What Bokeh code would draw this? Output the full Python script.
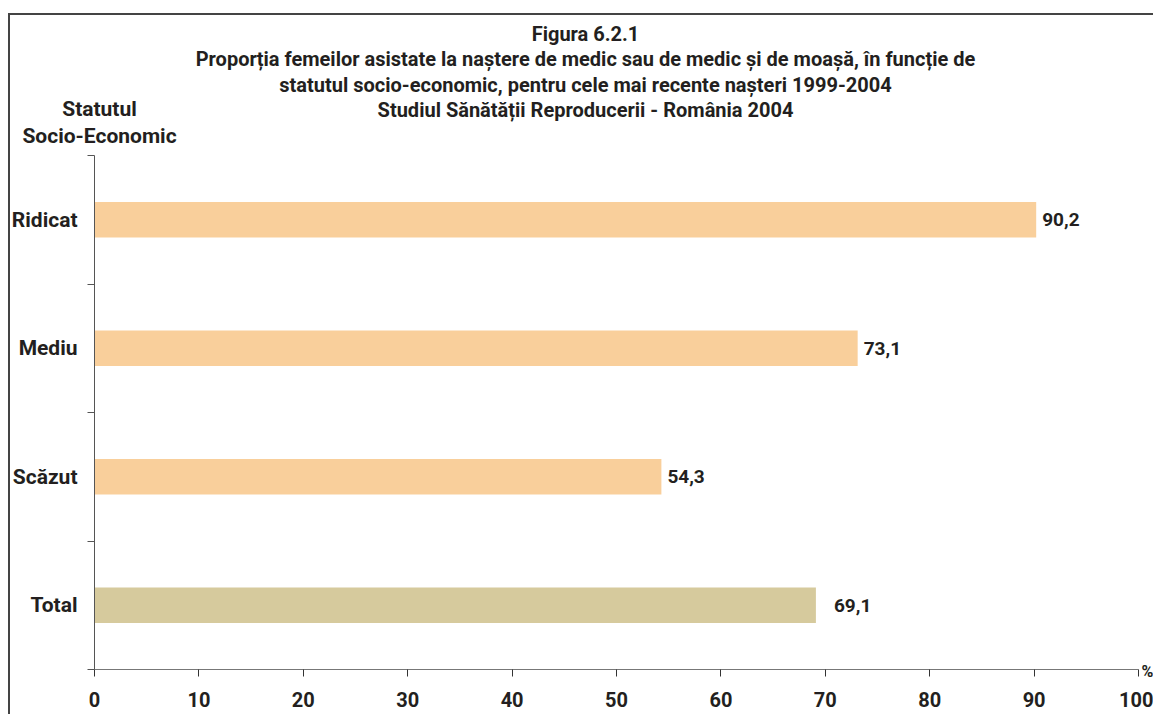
from bokeh.plotting import figure
from bokeh.models import Range1d, FixedTicker, Label, ColumnDataSource
from bokeh.core.properties import value
from bokeh.embed import file_html
from bokeh.resources import INLINE

# ---- data ----
categories = ["Ridicat", "Mediu", "Scăzut", "Total"]
values = [90.2, 73.1, 54.3, 69.1]
x_ticks = [0, 10, 20, 30, 40, 50, 60, 70, 80, 90, 100]
title_lines = [
    "Figura 6.2.1",
    "Proporția femeilor asistate la naștere de medic sau de medic și de moașă, în funcție de",
    "statutul socio-economic, pentru cele mai recente nașteri 1999-2004",
    "Studiul Sănătății Reproducerii - România 2004",
]
axis_title = ["Statutul", "Socio-Economic"]
unit_label = "%"

# ---- style / geometry ----
FONT = "Roboto"
TXT = "#231f20"
bar_colors = ["#F9CF9B", "#F9CF9B", "#F9CF9B", "#D6CA9D"]
label_offsets = [6, 6, 6, 18]

W, H = 1145, 701            # canvas size (px)
X0_PX, X100_PX = 84, 1128   # canvas x of value 0 and 100
YTOP_PX, YBOT_PX = 140, 654 # canvas y of top/bottom of category band

n = len(categories)
xpp = 100.0 / (X100_PX - X0_PX)
ypp = n / (YBOT_PX - YTOP_PX)
x_range = Range1d(-X0_PX * xpp, (W - X0_PX) * xpp)
y_range = Range1d(-(H - YBOT_PX) * ypp, YBOT_PX * ypp)

def ydata(canvas_y):
    return (YBOT_PX - canvas_y) * ypp

def xdata(canvas_x):
    return (canvas_x - X0_PX) * xpp

ypos = [n - i - 0.5 for i in range(n)]
labels = [f"{v:.1f}".replace(".", ",") for v in values]

src = ColumnDataSource(dict(y=ypos, x=values, color=bar_colors,
                            label=labels, off=label_offsets))

p = figure(width=W, height=H, output_backend="svg", toolbar_location=None,
           x_range=x_range, y_range=y_range,
           min_border_left=0, min_border_right=0, min_border_top=0, min_border_bottom=0)
p.styles = {"border-left": "2px solid #444444", "border-top": "2px solid #444444",
            "margin-top": "13px", "margin-left": "8px"}
p.outline_line_color = None
p.xgrid.grid_line_color = None
p.ygrid.grid_line_color = None
p.background_fill_color = "white"
p.border_fill_color = "white"

p.hbar(y="y", right="x", left=0, height=0.275, color="color", line_color=None, source=src)
p.text(x="x", y="y", text="label", x_offset="off", source=src,
       text_font=value(FONT), text_font_style="bold", text_font_size="19px",
       text_color=TXT, text_align="left", text_baseline="middle")

# x axis
xa = p.xaxis[0]
xa.fixed_location = 0
xa.bounds = (0, 100)
xa.ticker = FixedTicker(ticks=x_ticks, minor_ticks=[])
xa.major_tick_out = 7
xa.major_tick_in = 0
xa.minor_tick_out = 0
xa.axis_line_color = "#777777"
xa.major_tick_line_color = "#333333"
xa.major_label_text_font = FONT
xa.major_label_text_font_style = "bold"
xa.major_label_text_font_size = "20px"
xa.major_label_text_color = TXT
xa.major_label_standoff = 15

# y axis
ya = p.yaxis[0]
ya.fixed_location = 0
ya.bounds = (0, n)
ya.ticker = FixedTicker(ticks=ypos, minor_ticks=list(range(n + 1)))
ya.major_label_overrides = {y: c for y, c in zip(ypos, categories)}
ya.major_tick_out = 0
ya.major_tick_in = 0
ya.minor_tick_out = 7
ya.minor_tick_in = 0
ya.minor_tick_line_color = "#555555"
ya.axis_line_color = "#555555"
ya.major_label_text_font = FONT
ya.major_label_text_font_style = "bold"
ya.major_label_text_font_size = "21px"
ya.major_label_text_color = TXT
ya.major_label_standoff = 10

# titles
title_canvas_y = [18, 43, 69, 94]
for t, cy in zip(title_lines, title_canvas_y):
    p.add_layout(Label(x=xdata(575), y=ydata(cy), text=t, text_align="center",
                       text_baseline="middle", text_font=FONT, text_font_style="bold",
                       text_font_size="20px", text_color=TXT))
for t, cy in zip(axis_title, [93, 120]):
    p.add_layout(Label(x=xdata(89), y=ydata(cy), text=t, text_align="center",
                       text_baseline="middle", text_font=FONT, text_font_style="bold",
                       text_font_size="21px", text_color=TXT))
p.add_layout(Label(x=xdata(1128), y=0, x_offset=3, y_offset=-2, text=unit_label,
                   text_align="left", text_baseline="middle", text_font=FONT,
                   text_font_style="bold", text_font_size="16px", text_color=TXT))

open("out.html", "w").write(file_html(p, INLINE))
